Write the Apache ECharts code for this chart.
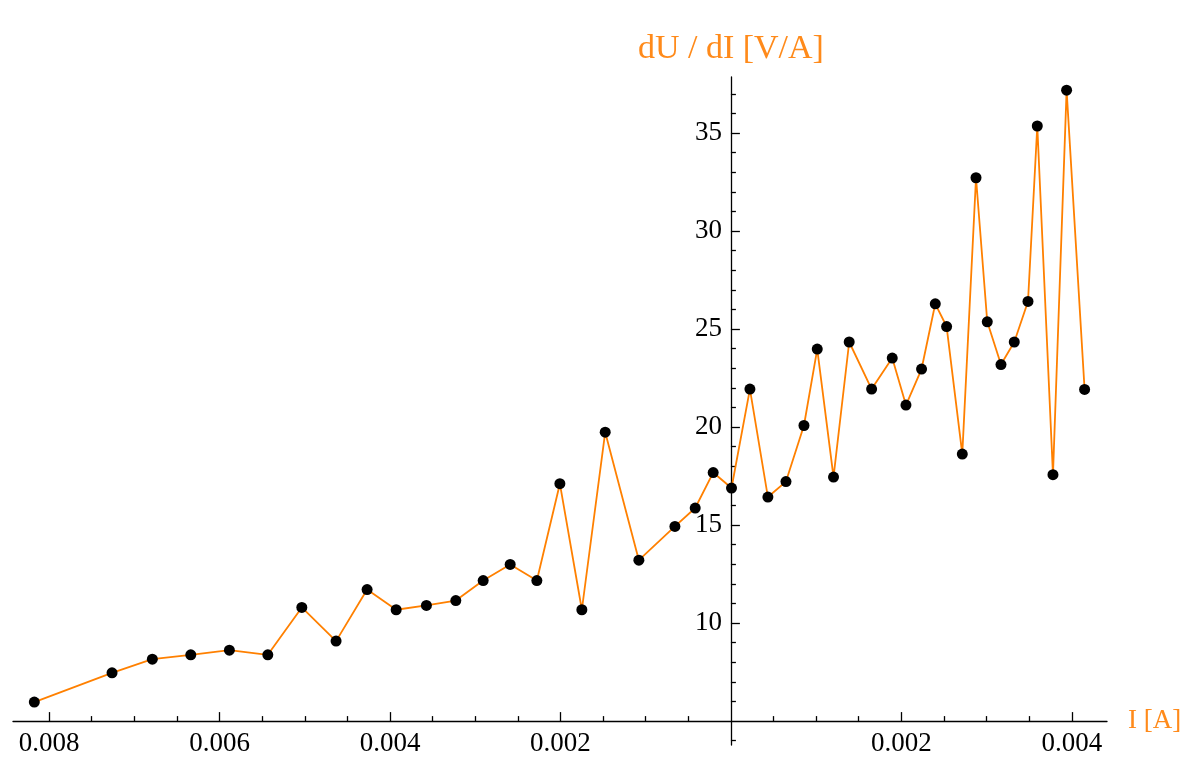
<!DOCTYPE html>
<html>
<head>
<meta charset="utf-8">
<title>dU/dI vs I</title>
<script src="https://cdn.jsdelivr.net/npm/echarts@6/dist/echarts.min.js"></script>
<style>
  html, body { margin: 0; padding: 0; background: #fff; }
  #chart { width: 1191px; height: 761px; }
</style>
</head>
<body>
<div id="chart"></div>
<script>
// current I [A] (left side is negative current)
var currents = [
  -0.008174, -0.007262, -0.006789, -0.006338, -0.005885, -0.005434, -0.005035, -0.004633,
  -0.004269, -0.003928, -0.003573, -0.003228, -0.002907, -0.002590, -0.002277, -0.002007,
  -0.001749, -0.001475, -0.001080, -0.000657, -0.000419, -0.000208, 0.000007, 0.000223,
  0.000434, 0.000646, 0.000857, 0.001013, 0.001204, 0.001388, 0.001651, 0.001893,
  0.002054, 0.002237, 0.002398, 0.002531, 0.002715, 0.002876, 0.003008, 0.003169,
  0.003325, 0.003486, 0.003595, 0.003779, 0.003939, 0.004150
];
// differential resistance dU/dI [V/A]
var resistance = [
  5.97, 7.46, 8.16, 8.38, 8.62, 8.38, 10.80, 9.08,
  11.71, 10.68, 10.90, 11.15, 12.17, 12.99, 12.17, 17.11,
  10.68, 19.74, 13.21, 14.93, 15.87, 17.68, 16.89, 21.94,
  16.43, 17.22, 20.08, 23.98, 17.45, 24.34, 21.94, 23.52,
  21.12, 22.96, 26.29, 25.13, 18.62, 32.72, 25.37, 23.19,
  24.34, 26.41, 35.36, 17.57, 37.19, 21.92
];

// axis ticks
var xMajorTicks = [-0.008, -0.006, -0.004, -0.002, 0.002, 0.004];
var xMinorTicks = [];
for (var k = -15; k <= 8; k++) {
  if (k !== 0 && k % 4 !== 0) xMinorTicks.push(k * 0.0005);
}
var yMajorTicks = [10, 15, 20, 25, 30, 35];
var yMinorTicks = [];
for (var v = 4; v <= 37; v++) {
  if (v % 5 !== 0) yMinorTicks.push(v);
}

var xMin = -0.008424, xMax = 0.004413;
var yMin = 3.78, yMax = 37.86;
var xCross = 0, yCross = 5;

var gridLeft = 13, gridRight = 84, gridTop = 77, gridBottom = 16;
var gridWidth = 1191 - gridLeft - gridRight;
var gridHeight = 761 - gridTop - gridBottom;
// axes cross at (0, 5) like the original plot
var xAxisOffset = -(yCross - yMin) / (yMax - yMin) * gridHeight;
var yAxisOffset = -(xCross - xMin) / (xMax - xMin) * gridWidth;

var orange = '#ff8000';
var textOrange = '#ff8a1a';
var font = 'Liberation Serif';

var points = currents.map(function (x, i) { return [x, resistance[i]]; });

function merge(base, extra) {
  for (var key in extra) base[key] = extra[key];
  return base;
}
function xAxisBase(extra) {
  return merge({
    type: 'value',
    position: 'bottom',
    min: xMin,
    max: xMax,
    offset: xAxisOffset,
    splitLine: { show: false },
    axisLine: { show: false, onZero: false }
  }, extra);
}
function yAxisBase(extra) {
  return merge({
    type: 'value',
    position: 'left',
    min: yMin,
    max: yMax,
    offset: yAxisOffset,
    splitLine: { show: false },
    axisLine: { show: false, onZero: false }
  }, extra);
}

var chart = echarts.init(document.getElementById('chart'));
chart.setOption({
  animation: false,
  backgroundColor: '#fff',
  grid: {
    left: gridLeft, right: gridRight, top: gridTop, bottom: gridBottom,
    containLabel: false, outerBoundsMode: 'none'
  },
  xAxis: [
    xAxisBase({
      name: 'I [A]',
      nameLocation: 'end',
      nameGap: 21,
      nameTextStyle: { color: textOrange, fontFamily: font, fontSize: 27, padding: [0, 0, 12, 0] },
      axisLine: { show: true, onZero: false, lineStyle: { color: '#000', width: 1.3 } },
      axisTick: { show: true, inside: true, length: 9, customValues: xMajorTicks, lineStyle: { color: '#000', width: 1.3 } },
      axisLabel: {
        show: true, margin: 9, customValues: xMajorTicks,
        color: '#000', fontFamily: font, fontSize: 27,
        formatter: function (val) { return Math.abs(val).toFixed(3); }
      }
    }),
    xAxisBase({
      axisTick: { show: true, inside: true, length: 5, customValues: xMinorTicks, lineStyle: { color: '#000', width: 1.3 } },
      axisLabel: { show: false }
    })
  ],
  yAxis: [
    yAxisBase({
      name: 'dU / dI [V/A]',
      nameLocation: 'end',
      nameGap: 11,
      nameTextStyle: { color: textOrange, fontFamily: font, fontSize: 34 },
      axisLine: { show: true, onZero: false, lineStyle: { color: '#000', width: 1.3 } },
      axisTick: { show: true, inside: true, length: 9, customValues: yMajorTicks, lineStyle: { color: '#000', width: 1.3 } },
      axisLabel: {
        show: true, margin: 9, customValues: yMajorTicks,
        color: '#000', fontFamily: font, fontSize: 27
      }
    }),
    yAxisBase({
      axisTick: { show: true, inside: true, length: 5, customValues: yMinorTicks, lineStyle: { color: '#000', width: 1.3 } },
      axisLabel: { show: false }
    })
  ],
  series: [{
    type: 'line',
    xAxisIndex: 0,
    yAxisIndex: 0,
    data: points,
    symbol: 'circle',
    symbolSize: 11,
    showAllSymbol: true,
    itemStyle: { color: '#000' },
    lineStyle: { color: orange, width: 1.8 },
    z: 3
  }]
});
</script>
</body>
</html>
